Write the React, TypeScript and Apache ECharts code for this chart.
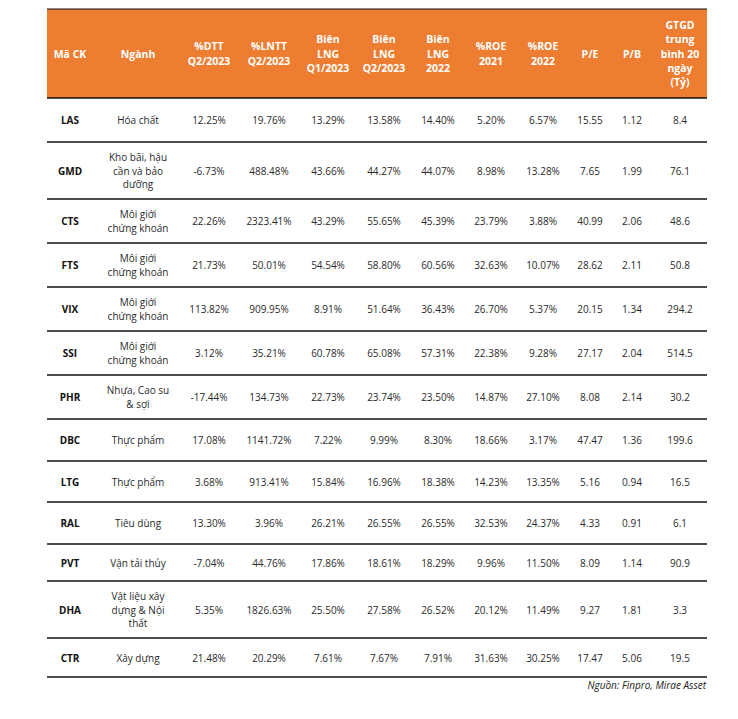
import React, { useEffect, useRef } from "react";
import * as echarts from "echarts";

// ---- data ----
const headers = [
  "Mã CK",
  "Ngành",
  "%DTT\nQ2/2023",
  "%LNTT\nQ2/2023",
  "Biên\nLNG\nQ1/2023",
  "Biên\nLNG\nQ2/2023",
  "Biên\nLNG\n2022",
  "%ROE\n2021",
  "%ROE\n2022",
  "P/E",
  "P/B",
  "GTGD\ntrung\nbình 20\nngày\n(Tỷ)",
];
const tickers = ["LAS", "GMD", "CTS", "FTS", "VIX", "SSI", "PHR", "DBC", "LTG", "RAL", "PVT", "DHA", "CTR"];
const sectors = [
  "Hóa chất",
  "Kho bãi, hậu\ncần và bảo\ndưỡng",
  "Môi giới\nchứng khoán",
  "Môi giới\nchứng khoán",
  "Môi giới\nchứng khoán",
  "Môi giới\nchứng khoán",
  "Nhựa, Cao su\n& sợi",
  "Thực phẩm",
  "Thực phẩm",
  "Tiêu dùng",
  "Vận tải thủy",
  "Vật liệu xây\ndựng & Nội\nthất",
  "Xây dựng",
];
const dttQ2 = [12.25, -6.73, 22.26, 21.73, 113.82, 3.12, -17.44, 17.08, 3.68, 13.3, -7.04, 5.35, 21.48];
const lnttQ2 = [19.76, 488.48, 2323.41, 50.01, 909.95, 35.21, 134.73, 1141.72, 913.41, 3.96, 44.76, 1826.63, 20.29];
const lngQ1 = [13.29, 43.66, 43.29, 54.54, 8.91, 60.78, 22.73, 7.22, 15.84, 26.21, 17.86, 25.5, 7.61];
const lngQ2 = [13.58, 44.27, 55.65, 58.8, 51.64, 65.08, 23.74, 9.99, 16.96, 26.55, 18.61, 27.58, 7.67];
const lng2022 = [14.4, 44.07, 45.39, 60.56, 36.43, 57.31, 23.5, 8.3, 18.38, 26.55, 18.29, 26.52, 7.91];
const roe2021 = [5.2, 8.98, 23.79, 32.63, 26.7, 22.38, 14.87, 18.66, 14.23, 32.53, 9.96, 20.12, 31.63];
const roe2022 = [6.57, 13.28, 3.88, 10.07, 5.37, 9.28, 27.1, 3.17, 13.35, 24.37, 11.5, 11.49, 30.25];
const pe = [15.55, 7.65, 40.99, 28.62, 20.15, 27.17, 8.08, 47.47, 5.16, 4.33, 8.09, 9.27, 17.47];
const pb = [1.12, 1.99, 2.06, 2.11, 1.34, 2.04, 2.14, 1.36, 0.94, 0.91, 1.14, 1.81, 5.06];
const gtgd = [8.4, 76.1, 48.6, 50.8, 294.2, 514.5, 30.2, 199.6, 16.5, 6.1, 90.9, 3.3, 19.5];
const sourceNote = "Nguồn: Finpro, Mirae Asset";

// ---- layout (table units = px) ----
const TABLE_W = 660;
const HEADER_H = 89;
const rowHeights = [44, 57, 44, 44, 44, 44, 44, 42, 41, 42, 37, 57, 39];
const colCenters = [23, 91, 162, 222, 281, 337, 391, 444, 496, 543, 585, 633];
const TABLE_H = HEADER_H + rowHeights.reduce((a, b) => a + b, 0);
const rowTops: number[] = [];
{
  let acc = HEADER_H;
  rowHeights.forEach((h) => {
    rowTops.push(acc);
    acc += h;
  });
}

const pct = (v: number) => v.toFixed(2) + "%";
const rowCells = (i: number): string[] => [
  tickers[i],
  sectors[i],
  pct(dttQ2[i]),
  pct(lnttQ2[i]),
  pct(lngQ1[i]),
  pct(lngQ2[i]),
  pct(lng2022[i]),
  pct(roe2021[i]),
  pct(roe2022[i]),
  pe[i].toFixed(2),
  pb[i].toFixed(2),
  gtgd[i].toFixed(1),
];

const FONT = "'Open Sans', 'Noto Sans', sans-serif";

export default function App() {
  const ref = useRef<HTMLDivElement>(null);
  useEffect(() => {
    if (!ref.current) return;
    const chart = echarts.init(ref.current, null, { renderer: "svg" });
    const option: any = {
      animation: false,
      backgroundColor: "#ffffff",
      title: {
        text: sourceNote,
        right: 32,
        top: 680,
        padding: 0,
        textStyle: {
          fontFamily: FONT,
          fontSize: 10,
          fontStyle: "italic",
          fontWeight: "normal",
          color: "#222",
        },
      },
      grid: { left: 47, top: 9, width: TABLE_W, height: TABLE_H },
      xAxis: { type: "value", min: 0, max: TABLE_W, show: false },
      yAxis: { type: "value", min: 0, max: TABLE_H, inverse: true, show: false },
      series: [
        {
          type: "custom",
          name: "header",
          silent: true,
          clip: false,
          data: [[0]],
          renderItem: (params: any, api: any) => {
            const tl = api.coord([0, 0]);
            const br = api.coord([TABLE_W, HEADER_H]);
            const children: any[] = [
              {
                type: "rect",
                shape: { x: tl[0], y: tl[1], width: br[0] - tl[0], height: br[1] - tl[1] },
                style: { fill: "#ED7D31" },
              },
              {
                type: "line",
                shape: { x1: tl[0], y1: tl[1], x2: br[0], y2: tl[1] },
                style: { stroke: "#111", lineWidth: 1.2 },
              },
              {
                type: "line",
                shape: { x1: tl[0], y1: br[1], x2: br[0], y2: br[1] },
                style: { stroke: "#111", lineWidth: 1.5 },
              },
            ];
            headers.forEach((h, c) => {
              const p = api.coord([colCenters[c], HEADER_H / 2]);
              children.push({
                type: "text",
                x: p[0],
                y: p[1],
                style: {
                  text: h,
                  align: "center",
                  verticalAlign: "middle",
                  fontFamily: FONT,
                  fontSize: 10.5,
                  fontWeight: "bold",
                  lineHeight: 14.3,
                  fill: "#ffffff",
                },
              });
            });
            return { type: "group", children };
          },
        },
        {
          type: "custom",
          name: "rows",
          silent: true,
          clip: false,
          data: tickers.map((_, i) => [i]),
          renderItem: (params: any, api: any) => {
            const i = api.value(0) as number;
            const y0 = rowTops[i];
            const y1 = y0 + rowHeights[i];
            const ym = (y0 + y1) / 2;
            const l = api.coord([0, y1]);
            const r = api.coord([TABLE_W, y1]);
            const children: any[] = [
              {
                type: "line",
                shape: { x1: l[0], y1: l[1], x2: r[0], y2: r[1] },
                style: { stroke: "#111", lineWidth: 1.3 },
              },
            ];
            rowCells(i).forEach((txt, c) => {
              const p = api.coord([colCenters[c], ym]);
              children.push({
                type: "text",
                x: p[0],
                y: p[1],
                style: {
                  text: txt,
                  align: "center",
                  verticalAlign: "middle",
                  fontFamily: FONT,
                  fontSize: 10,
                  fontWeight: c === 0 ? "bold" : "normal",
                  lineHeight: 13.3,
                  fill: c === 0 ? "#111" : "#2a2a2a",
                },
              });
            });
            return { type: "group", children };
          },
        },
      ],
    };
    chart.setOption(option);
    return () => chart.dispose();
  }, []);
  return (
    <div
      ref={ref}
      style={{ position: "fixed", left: 0, top: 0, width: 738, height: 719 }}
    />
  );
}
